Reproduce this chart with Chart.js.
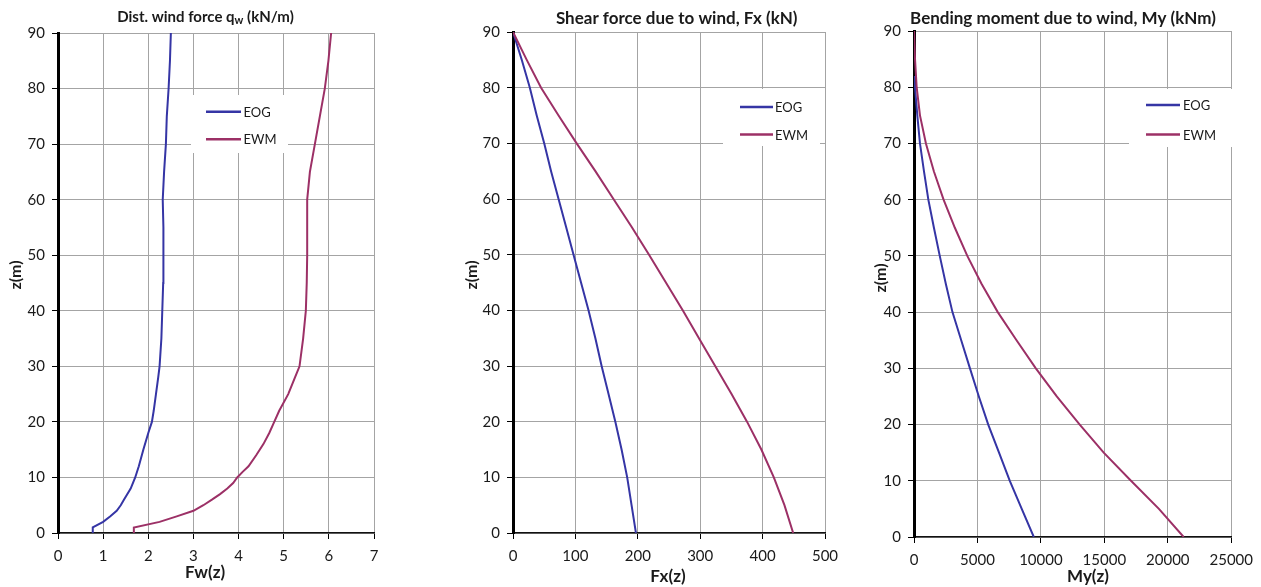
<!DOCTYPE html>
<html><head><meta charset="utf-8">
<script src="https://cdn.jsdelivr.net/npm/chart.js@4.4.1/dist/chart.umd.min.js"></script>
<style>
html,body{margin:0;padding:0;background:#fff;}
#wrap{position:relative;width:1261px;height:587px;overflow:hidden;background:#fff;}
canvas{position:absolute;top:0;}
</style></head><body>
<div id="wrap">
<canvas id="c1" width="400" height="587" style="left:0px"></canvas>
<canvas id="c2" width="430" height="587" style="left:430px"></canvas>
<canvas id="c3" width="401" height="587" style="left:860px"></canvas>
</div>
<script>
// ---------- data ----------
const seriesNames = ['EOG', 'EWM'];
const heightTicks = [0, 10, 20, 30, 40, 50, 60, 70, 80, 90];
const fwTicks = [0, 1, 2, 3, 4, 5, 6, 7];
const fxTicks = [0, 100, 200, 300, 400, 500];
const myTicks = [0, 5000, 10000, 15000, 20000, 25000];

// distributed wind force Fw(z) [kN/m]
const fwHeightsEOG = [0,1,2,3,4,5,6,8,10,12,15,18,20,22,25,28,30,35,40,45,50,55,60,65,70,75,80,85,90];
const fwEOG = [0.77,0.77,1.00,1.16,1.30,1.39,1.46,1.61,1.71,1.79,1.89,2.00,2.08,2.12,2.17,2.22,2.25,2.29,2.31,2.33,2.34,2.33,2.32,2.35,2.39,2.41,2.45,2.48,2.50];
const fwHeightsEWM = [0,1,2,3,4,5,6,7,8,9,10,11,12,14,16,18,20,22,25,28,30,35,40,45,50,55,60,65,70,75,80,85,90];
const fwEWM = [1.68,1.68,2.25,2.63,3.00,3.22,3.41,3.59,3.75,3.88,3.97,4.09,4.22,4.39,4.55,4.68,4.79,4.90,5.10,5.25,5.35,5.43,5.49,5.51,5.52,5.52,5.52,5.58,5.69,5.80,5.91,5.99,6.05];

// shear force Fx(z) [kN]
const fxHeights = [0,5,10,15,20,25,30,35,40,45,50,55,60,65,70,75,80,85,90];
const fxEOG = [197,190,183,174,164,153,142,132,121,109,97,85,73,61,50,38,27,14,0];
const fxEWM = [449,435,418,398,375,350,324,298,272,245,218,190,161,132,102,73,45,22,0];

// bending moment My(z) [kNm]
const myHeightsEOG = [0,5,10,15,20,25,30,35,40,45,50,55,60,65,70,75,80,82];
const myEOG = [9440,8490,7550,6700,5850,5110,4410,3720,3030,2510,2030,1570,1130,790,470,260,80,0];
const myHeightsEWM = [0,5,10,15,20,25,30,35,40,45,50,55,60,65,70,75,80,85,90];
const myEWM = [21250,19300,17100,14950,13060,11250,9600,8080,6600,5330,4200,3220,2330,1570,940,470,210,80,0];

// ---------- styling ----------
const COLORS = ['#3535a5', '#9c3066'];
const FONT = 'Lato, "Open Sans", sans-serif';
const TXT = '#1a1a1a';

function pts(vals, hs) { return vals.map((v, i) => ({ x: v, y: hs[i] })); }

function overlayPlugin(o) {
  return {
    id: 'overlay',
    beforeDatasetsDraw(chart) {
      const ctx = chart.ctx, L = o.legend;
      ctx.save();
      ctx.fillStyle = '#fff';
      ctx.fillRect(L.x, L.y, L.w, L.h);
      ctx.restore();
    },
    afterDraw(chart) {
      const ctx = chart.ctx, L = o.legend;
      ctx.save();
      // legend
      chart.data.datasets.forEach((ds, i) => {
        const y = L.rows[i];
        ctx.strokeStyle = ds.borderColor;
        ctx.lineWidth = 2.5;
        ctx.beginPath(); ctx.moveTo(L.lx0, y); ctx.lineTo(L.lx1, y); ctx.stroke();
        ctx.fillStyle = TXT;
        ctx.font = '13px ' + FONT;
        ctx.textAlign = 'left'; ctx.textBaseline = 'middle';
        ctx.fillText(ds.label, L.tx, y + 1);
      });
      // chart title (with optional subscript)
      const T = o.title;
      ctx.fillStyle = TXT;
      ctx.textBaseline = 'middle';
      ctx.textAlign = 'left';
      const big = 'bold ' + T.size + 'px ' + FONT;
      const small = 'bold ' + Math.round(T.size * 0.72) + 'px ' + FONT;
      let total = 0;
      T.parts.forEach(p => { ctx.font = p.sub ? small : big; total += ctx.measureText(p.t).width; });
      let x = T.cx - total / 2;
      T.parts.forEach(p => {
        ctx.font = p.sub ? small : big;
        ctx.fillText(p.t, x, T.cy + (p.sub ? 3 : 0));
        x += ctx.measureText(p.t).width;
      });
      // x axis title
      ctx.font = 'bold 17px ' + FONT;
      ctx.textAlign = 'center';
      ctx.fillText(o.xTitle.t, o.xTitle.cx, o.xTitle.cy);
      // y axis title (rotated)
      ctx.translate(o.yTitle.cx, o.yTitle.cy);
      ctx.rotate(-Math.PI / 2);
      ctx.font = 'bold 16px ' + FONT;
      ctx.fillText(o.yTitle.t, 0, 0);
      ctx.restore();
    }
  };
}

function makeChart(id, o) {
  const datasets = o.series.map((s, i) => ({
    label: seriesNames[i],
    data: pts(s.vals, s.hs),
    borderColor: COLORS[i],
    backgroundColor: COLORS[i],
    borderWidth: 2,
    pointRadius: 0,
    showLine: true,
    tension: 0,
    order: 1 - i
  }));
  const gridCommon = {
    color: '#a4a4a4', lineWidth: 1, tickColor: '#000', tickLength: 6, drawTicks: true
  };
  return new Chart(document.getElementById(id), {
    type: 'scatter',
    data: { datasets },
    options: {
      responsive: false, animation: false, devicePixelRatio: 1,
      layout: { padding: { left: 0, right: o.padRight, top: o.padTop, bottom: 0 } },
      plugins: { legend: { display: false }, tooltip: { enabled: false }, title: { display: false } },
      scales: {
        x: {
          type: 'linear', min: o.xTicks[0], max: o.xTicks[o.xTicks.length - 1],
          afterBuildTicks: s => { s.ticks = o.xTicks.map(v => ({ value: v })); },
          afterFit: s => { s.height = o.xHeight; },
          ticks: { color: TXT, font: { family: FONT, size: 15 }, padding: 8, maxRotation: 0,
                   callback: v => String(v) },
          grid: gridCommon,
          border: { display: true, color: '#111', width: 1.5 }
        },
        y: {
          type: 'linear', min: 0, max: 90,
          afterBuildTicks: s => { s.ticks = heightTicks.map(v => ({ value: v })); },
          afterFit: s => { s.width = o.yWidth; },
          ticks: { color: TXT, font: { family: FONT, size: 15 }, padding: 7,
                   callback: v => String(v) },
          grid: gridCommon,
          border: { display: true, color: '#000', width: 3 }
        }
      }
    },
    plugins: [overlayPlugin(o)]
  });
}

makeChart('c1', {
  series: [{ vals: fwEOG, hs: fwHeightsEOG }, { vals: fwEWM, hs: fwHeightsEWM }],
  xTicks: fwTicks, padRight: 26, padTop: 33, xHeight: 54, yWidth: 58,
  legend: { x: 191, y: 95, w: 97, h: 58, lx0: 206, lx1: 241, tx: 243.5, rows: [111.7, 139.3] },
  title: { cx: 205.5, cy: 17, size: 15, parts: [{ t: 'Dist. wind force q' }, { t: 'w', sub: true }, { t: ' (kN/m)' }] },
  xTitle: { t: 'Fw(z)', cx: 205, cy: 573 },
  yTitle: { t: 'z(m)', cx: 16, cy: 275 }
});

makeChart('c2', {
  series: [{ vals: fxEOG, hs: fxHeights }, { vals: fxEWM, hs: fxHeights }],
  xTicks: fxTicks, padRight: 35, padTop: 32, xHeight: 54, yWidth: 83,
  legend: { x: 293, y: 89, w: 97, h: 57, lx0: 310, lx1: 343, tx: 345, rows: [107, 134.5] },
  title: { cx: 246.7, cy: 19, size: 17, parts: [{ t: 'Shear force due to wind, Fx (kN)' }] },
  xTitle: { t: 'Fx(z)', cx: 238, cy: 577 },
  yTitle: { t: 'z(m)', cx: 42, cy: 275 }
});

makeChart('c3', {
  series: [{ vals: myEOG, hs: myHeightsEOG }, { vals: myEWM, hs: myHeightsEWM }],
  xTicks: myTicks, padRight: 29, padTop: 31, xHeight: 50, yWidth: 54,
  legend: { x: 269, y: 89, w: 103, h: 58, lx0: 286, lx1: 320, tx: 323, rows: [105, 134.5] },
  title: { cx: 203, cy: 19, size: 17, parts: [{ t: 'Bending moment due to wind, My (kNm)' }] },
  xTitle: { t: 'My(z)', cx: 228, cy: 577 },
  yTitle: { t: 'z(m)', cx: 21, cy: 278 }
});
</script>
</body></html>
